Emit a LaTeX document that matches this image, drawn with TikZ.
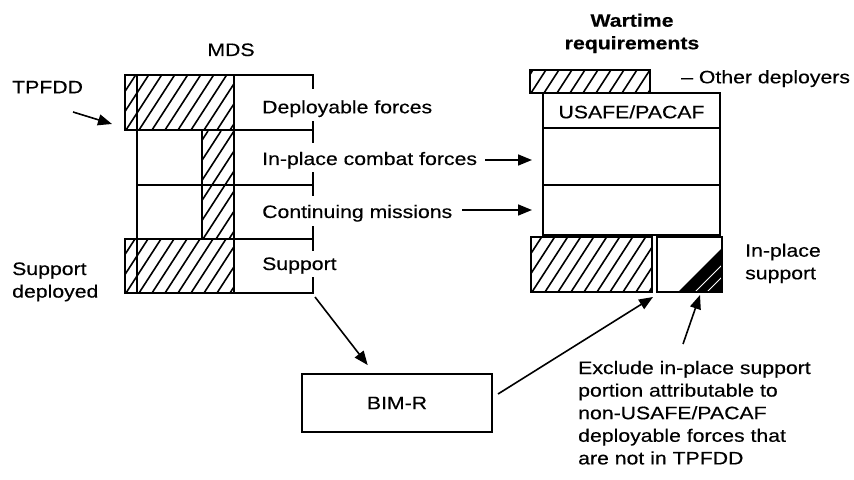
\documentclass[tikz,border=0pt]{standalone}
\usepackage{fontspec}
\setmainfont{Liberation Sans}[FakeStretch=1.18,FakeBold=0.35]
\usetikzlibrary{arrows.meta}

\tikzset{
  frame/.style={line width=2bp, line cap=rect},
  hatchline/.style={line width=1.6bp},
  lbl/.style={inner sep=0pt, font=\fontsize{18bp}{22.6bp}\selectfont},
  ptr/.style={line width=1.6bp, -{Triangle[length=14bp,width=11bp]}},
}

% diagonal hatching inside the rectangle (#1,#2)--(#3,#4)
\newcommand\hatchrect[4]{%
  \begin{scope}
    \clip (#1,#2) rectangle (#3,#4);
    \foreach \k in {-90,-77,...,140}
      \draw[hatchline] ({#1+\k},#4) -- ++(70,-108);
  \end{scope}}

% several lines of text, aligned on the first line's baseline
\newcommand\txtlines[2]{\begin{tabular}[t]{@{}#1@{}}#2\end{tabular}}

\begin{document}
\begin{tikzpicture}[x=1bp,y=-1bp]
\useasboundingbox (0,0) rectangle (854,480);

% ---------- MDS column ----------
\hatchrect{125}{75}{234}{130}
\hatchrect{202}{130}{234}{239}
\hatchrect{125}{239}{234}{293}
\draw[frame] (125,75) rectangle (234,130);
\draw[frame] (202,130) rectangle (234,239);
\draw[frame] (125,239) rectangle (234,293);
\draw[frame] (137,75) -- (137,293);
\draw[frame] (234,75) -- (313,75);
\draw[frame] (234,130) -- (313,130);
\draw[frame] (137,185) -- (313,185);
\draw[frame] (234,239) -- (313,239);
\draw[frame] (234,293) -- (313,293);
% right-hand bracket ticks
\draw[frame] (313,75) -- (313,88);
\draw[frame] (313,122) -- (313,142);
\draw[frame] (313,173) -- (313,195);
\draw[frame] (313,227) -- (313,250);
\draw[frame] (313,278) -- (313,293);
\coordinate (mdsout) at (315,297);

\node[lbl, anchor=base] (mds) at (231,56) {MDS};
\node[lbl, anchor=base west] (dep) at (262,113.3) {Deployable forces};
\node[lbl, anchor=base west] (combat) at (262,165) {In-place combat forces};
\node[lbl, anchor=base west] (cont) at (262,218) {Continuing missions};
\node[lbl, anchor=base west] (sup) at (262,270) {Support};

\node[lbl, anchor=base west] (tpfdd) at (12,93.3) {TPFDD};
\coordinate (tpfddtip) at (112,124);
\node[lbl, anchor=base west] (supdep) at (12,275) {\txtlines{l}{Support\\deployed}};

% ---------- Wartime requirements column ----------
\node[lbl, anchor=base] (war) at (632,26.7) {\bfseries\txtlines{c}{Wartime\\requirements}};

\hatchrect{530}{70}{650}{93}
\draw[frame] (530,70) rectangle (650,93);
\node[lbl, anchor=base west] (other) at (681,83.3) {– Other deployers};

\draw[frame] (543,93) rectangle (720,235);
\draw[frame] (543,128) -- (720,128);
\draw[frame] (543,185) -- (720,185);
\node[lbl, anchor=base] (usafe) at (631.5,118.3) {USAFE/PACAF};
\coordinate (combatin) at (532,160);
\coordinate (contin) at (532,210);

\hatchrect{531}{237}{652}{292}
\draw[frame] (531,237) rectangle (652,292);
% excluded share of in-place support
\begin{scope}
  \clip (678,292) -- (722,292) -- (722,248) -- cycle;
  \fill (678,292) -- (722,292) -- (722,248) -- cycle;
  \draw[white, line width=0.9bp] (693,294) -- (724,263);
  \draw[white, line width=0.9bp] (705,294) -- (724,275);
\end{scope}
\draw[frame] (657,237) rectangle (722,292);
\coordinate (gaptip) at (653,297);
\coordinate (blacktip) at (700,295);

\node[lbl, anchor=base west] (ips) at (745,256.7) {\txtlines{l}{In-place\\support}};

% ---------- BIM-R ----------
\node[lbl, draw, line width=2bp, minimum width=190bp, minimum height=58bp] (bim) at (397,403) {BIM-R};

\node[lbl, anchor=base west] (note) at (578,374)
  {\txtlines{l}{Exclude in-place support\\portion attributable to\\non-USAFE/PACAF\\deployable forces that\\are not in TPFDD}};
\coordinate (noteout) at (683,344);

% ---------- connectors ----------
\draw[ptr] (73,112) -- (tpfddtip);
\draw[ptr, shorten <=8bp] (combat.east |- combatin) -- (combatin);
\draw[ptr, shorten <=10bp] (cont.east |- contin) -- (contin);
\draw[ptr, shorten >=10bp] (mdsout) -- (bim);
\draw[ptr] ([shift={(5,-9)}]bim.east) -- (gaptip);
\draw[ptr] (noteout) -- (blacktip);
\end{tikzpicture}
\end{document}
